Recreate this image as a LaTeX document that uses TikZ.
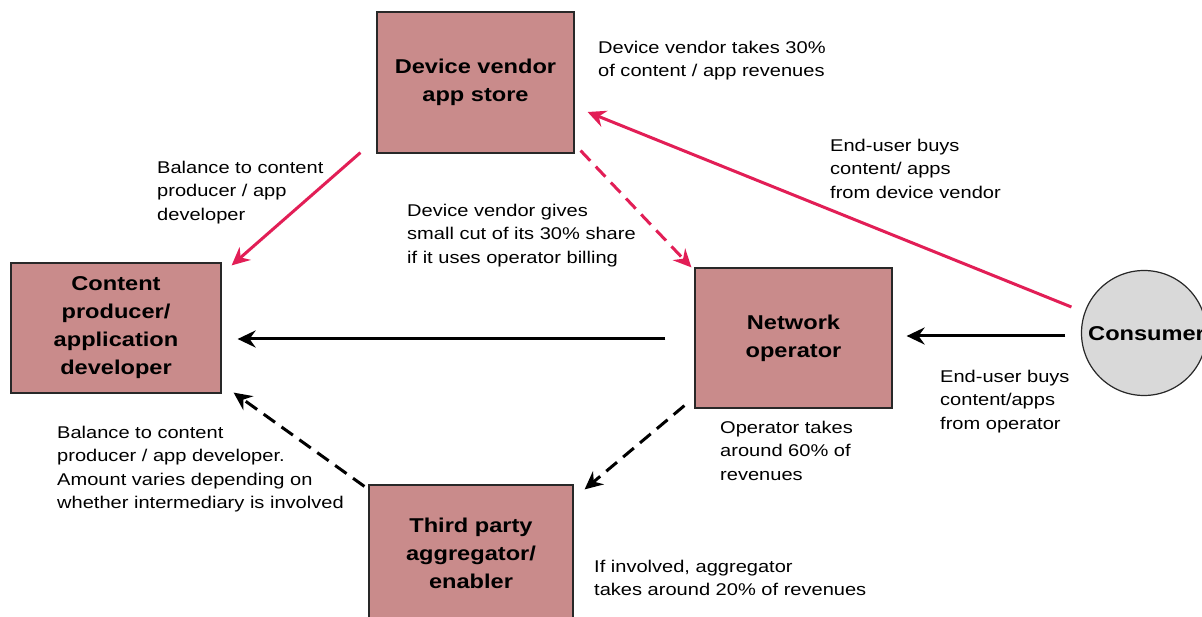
\documentclass[tikz,border=0pt]{standalone}
\usepackage{fontspec}
\setmainfont{Liberation Sans}[FakeStretch=1.18]
\usetikzlibrary{arrows.meta}
\definecolor{boxfill}{RGB}{201,139,139}
\definecolor{arrowred}{RGB}{226,30,86}
\definecolor{circfill}{RGB}{217,217,217}
\definecolor{edgegray}{RGB}{40,40,40}
\tikzset{
  box/.style={draw=edgegray, line width=1.2pt, fill=boxfill, inner sep=0pt, align=center,
    font={\fontsize{20}{28}\selectfont\bfseries}},
  lbl/.style={anchor=north west, inner sep=0pt, align=left, font={\fontsize{17}{23.5}\selectfont}},
  tip/.style={-{Stealth[length=18pt,width=17pt,inset=6pt]}},
  redarrow/.style={tip, draw=arrowred, line width=3pt},
  blackarrow/.style={tip, draw=black, line width=3pt},
  dashline/.style={dash pattern=on 14pt off 8pt}
}
\begin{document}
\begin{tikzpicture}[x=1pt,y=-1pt]
\clip (0,0) rectangle (1202,617);
\fill[white] (0,0) rectangle (1202,617);
% boxes
\node[box, minimum width=197pt, minimum height=141pt] (vendor) at (475.5,82.5) {Device vendor\\app store};
\node[box, minimum width=210pt, minimum height=130pt] (content) at (116,328) {Content\\producer/\\application\\developer};
\node[box, minimum width=197pt, minimum height=140pt] (operator) at (793.5,338) {Network\\operator};
\node[box, minimum width=204pt, minimum height=140pt, text depth=0pt] (third) at (471,555) {};
\node[font={\fontsize{20}{28}\selectfont\bfseries}, align=center, inner sep=0pt] (thirdtext) at (471,553) {Third party\\aggregator/\\enabler};
\node[circle, draw=edgegray, line width=1.2pt, fill=circfill, minimum size=125pt, inner sep=0pt] (consumer) at (1144,333) {};
\node[anchor=west, inner sep=0pt, font={\fontsize{20}{28}\selectfont\bfseries}] (constext) at (1088,334) {Consumer};
% labels
\node[lbl] (l1) at (598,40.5) {Device vendor takes 30\%\\of content / app revenues};
\node[lbl] (l2) at (157,160.5) {Balance to content\\producer / app\\developer};
\node[lbl] (l3) at (407,203.5) {Device vendor gives\\small cut of its 30\% share\\if it uses operator billing};
\node[lbl] (l4) at (830,138.5) {End-user buys\\content/ apps\\from device vendor};
\node[lbl] (l5) at (940,369.5) {End-user buys\\content/apps\\from operator};
\node[lbl] (l6) at (720,420.5) {Operator takes\\around 60\% of\\revenues};
\node[lbl] (l7) at (57,425.5) {Balance to content\\producer / app developer.\\Amount varies depending on\\whether intermediary is involved};
\node[lbl] (l8) at (594,559.5) {If involved, aggregator\\takes around 20\% of revenues};
% connectors
\draw[redarrow] ([xshift=-16pt,yshift=1pt]vendor.south west) -- ([xshift=10pt,yshift=-3pt]content.north east);
\draw[redarrow, dashline] ([xshift=6pt,yshift=3pt]vendor.south east) -- ([xshift=-3pt]operator.north west);
\draw[redarrow] ([xshift=-9.5pt,yshift=26pt]consumer.west) -- ([xshift=13pt,yshift=-29.5pt]vendor.east);
\draw[blackarrow] ([xshift=-29pt,yshift=-1pt]operator.west) -- ([xshift=16pt,yshift=-11pt]content.east);
\draw[blackarrow] ([xshift=-15.5pt,yshift=-3pt]consumer.west) -- ([xshift=14pt,yshift=2pt]operator.east);
\draw[blackarrow, dashline] ([xshift=-10pt,yshift=3pt]operator.south west) -- ([xshift=11pt,yshift=-5pt]third.north east);
\draw[blackarrow, dashline] ([xshift=-4pt,yshift=-2pt]third.north west) -- ([xshift=12pt,yshift=1pt]content.south east);
\end{tikzpicture}
\end{document}
